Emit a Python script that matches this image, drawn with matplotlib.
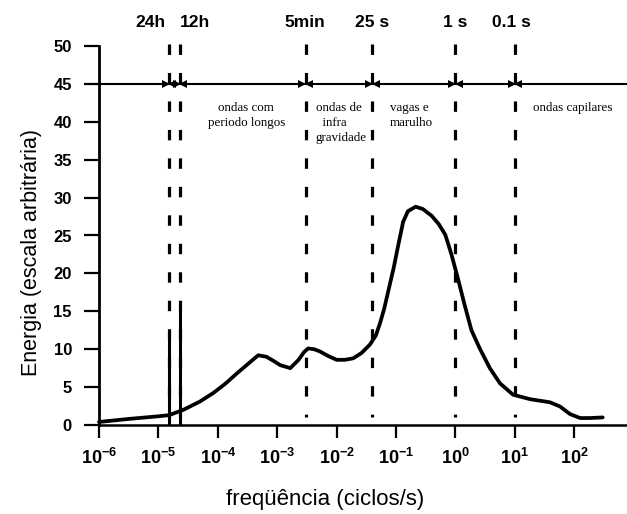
import numpy as np
import matplotlib
matplotlib.use("Agg")
import matplotlib.pyplot as plt

plt.rcParams["font.family"] = ["Liberation Sans", "DejaVu Sans"]
plt.rcParams["mathtext.fontset"] = "custom"
plt.rcParams["mathtext.rm"] = "Liberation Sans"
plt.rcParams["mathtext.bf"] = "Liberation Sans:bold"
plt.rcParams["lines.scale_dashes"] = False

# energy spectrum read along log10(frequency)
log_freq = [-6.0, -5.5, -5.0, -4.82, -4.58, -4.3, -4.08, -3.88, -3.68, -3.5,
            -3.32, -3.18, -3.05, -2.95, -2.78, -2.64, -2.55, -2.48, -2.38,
            -2.28, -2.14, -2.0, -1.86, -1.72, -1.58, -1.44, -1.34, -1.27,
            -1.2, -1.12, -1.04, -0.96, -0.88, -0.8, -0.67, -0.55, -0.4,
            -0.28, -0.17, -0.07, 0.03, 0.15, 0.27, 0.41, 0.58, 0.75, 0.97,
            1.26, 1.59, 1.76, 1.93, 2.1, 2.27, 2.48]
energy = [0.4, 0.8, 1.15, 1.3, 2.0, 3.1, 4.2, 5.4, 6.8, 8.0,
          9.2, 9.0, 8.4, 7.9, 7.5, 8.6, 9.6, 10.1, 10.0,
          9.7, 9.1, 8.6, 8.6, 8.8, 9.5, 10.6, 11.8, 13.4,
          15.3, 18.0, 20.7, 23.8, 26.8, 28.2, 28.8, 28.5, 27.6,
          26.5, 25.1, 22.6, 19.7, 16.0, 12.5, 10.1, 7.5, 5.5, 4.0,
          3.4, 3.0, 2.45, 1.44, 0.92, 0.92, 1.0]

# tidal lines (24h, 12h)
tide_freq = [1.5e-5, 2.3e-5]
tide_energy = [12.1, 15.2]

# period boundaries
period_freq = [1.5e-5, 2.3e-5, 3.0e-3, 0.04, 1.0, 10.0]
period_labels = ["24h", "12h", "5min", "25 s", "1 s", "0.1 s"]
period_label_freq = [10**-5.14, 10**-4.38, 10**-2.53, 10**-1.40, 1.0, 10**0.95]

band_labels = ["ondas com\nperiodo longos", "ondas de\n  infra\ngravidade",
               "vagas e\nmarulho", "ondas capilares"]
band_freq = [10**-3.52, 10**-2.35, 10**-1.10, 10**1.30]
band_ha = ["center", "left", "left", "left"]

yticks = np.arange(0, 51, 5)
xdecades = np.arange(-6, 3)

fig = plt.figure(figsize=(6.27, 5.14), dpi=100)
ax = fig.add_axes([99 / 627, 89 / 514, 528 / 627, 379 / 514])

ax.set_xscale("log")
ax.set_xlim(1e-6, 10**2.889)
ax.set_ylim(0, 50)

for s in ["top", "right"]:
    ax.spines[s].set_visible(False)
ax.spines["left"].set_linewidth(2.0)
ax.spines["bottom"].set_linewidth(1.8)

ax.plot(10.0 ** np.array(log_freq), energy, color="black", lw=2.7,
        solid_capstyle="round", solid_joinstyle="round", clip_on=False)

for f, e in zip(tide_freq, tide_energy):
    ax.plot([f, f], [0, e], color="black", lw=2.2, solid_capstyle="butt")

for f in period_freq:
    ax.plot([f, f], [50.3, 1.0], color="black", lw=2.3,
            linestyle=(0, (7.5, 13)), dash_capstyle="butt", clip_on=False)

# horizontal band line with inward arrowheads at each boundary
ax.axhline(45, color="black", lw=1.5)
pf = np.array(period_freq)
ax.plot(pf * 10**-0.055, [45] * len(pf), ">", color="black", ms=6, mew=0)
ax.plot(pf * 10**0.055, [45] * len(pf), "<", color="black", ms=6, mew=0)

for f, lab in zip(period_label_freq, period_labels):
    ax.text(f, 53.1, lab, ha="center", va="center", fontsize=12.5,
            fontweight="bold", clip_on=False)

for f, lab, ha in zip(band_freq, band_labels, band_ha):
    ax.text(f, 42.6, lab, ha=ha, va="top", multialignment=ha,
            fontsize=9.4, family="Liberation Serif", linespacing=1.35)

ax.set_yticks(yticks)
ax.set_yticklabels([str(v) for v in yticks], fontsize=12, fontweight="bold")
ax.set_xticks(10.0 ** xdecades)
ax.set_xticklabels([r"$\mathbf{10^{%d}}$" % d for d in xdecades], fontsize=13)
ax.minorticks_off()
ax.tick_params(axis="y", direction="out", length=10.5, width=1.6, pad=9)
ax.tick_params(axis="x", direction="out", length=9.5, width=1.6, pad=7)

fig.text(32 / 627, 1 - 252 / 514, "Energia (escala arbitrária)", rotation=90,
         ha="center", va="center", fontsize=15.5)
fig.text(325 / 627, 1 - 499 / 514, "freqüência (ciclos/s)", ha="center",
         va="center", fontsize=16)

fig.savefig("out.png", dpi=100)
